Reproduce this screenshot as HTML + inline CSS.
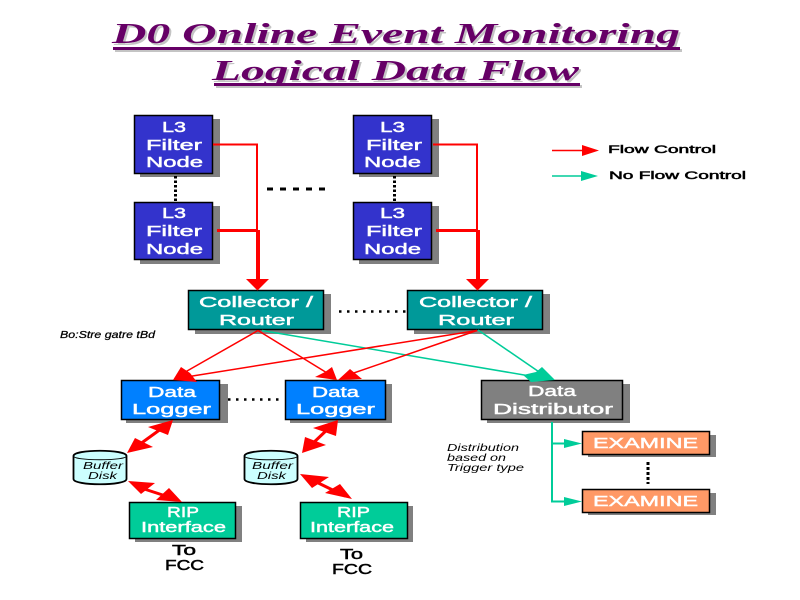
<!DOCTYPE html>
<html><head><meta charset="utf-8"><style>
html,body{margin:0;padding:0;background:#fff}
svg{display:block}
text{font-family:"Liberation Sans",sans-serif}
.w{fill:#fff;stroke:#fff;stroke-width:.45px;font-size:15px}
.k{fill:#000;stroke:#000;stroke-width:.5px;font-size:15px}
.i{fill:#000;font-style:italic;font-size:10px}
.t{fill:#660066;font-family:"Liberation Serif",serif;font-weight:bold;font-style:italic;font-size:28px}
.ts{fill:#c4c4c4}
.s{fill:#808080}
.b{stroke:#000;stroke-width:1.5}
</style></head><body>
<svg width="800" height="600" viewBox="0 0 800 600" xmlns="http://www.w3.org/2000/svg">

<!-- title -->
<rect x="115" y="49" width="567" height="3" fill="#c4c4c4"/>
<text class="t ts" x="114" y="45" textLength="568" lengthAdjust="spacingAndGlyphs">D0 Online Event Monitoring</text>
<text class="t" x="112" y="43" textLength="568" lengthAdjust="spacingAndGlyphs">D0 Online Event Monitoring</text>
<rect x="113" y="47" width="567" height="3" fill="#660066"/>
<rect x="216" y="85" width="366" height="3" fill="#c4c4c4"/>
<text class="t ts" x="214" y="82" textLength="367" lengthAdjust="spacingAndGlyphs">Logical Data Flow</text>
<text class="t" x="212" y="80" textLength="367" lengthAdjust="spacingAndGlyphs">Logical Data Flow</text>
<rect x="214" y="83" width="366" height="3" fill="#660066"/>

<!-- shadows -->
<rect class="s" x="140" y="119" width="80" height="58"/>
<rect class="s" x="140" y="206" width="80" height="58"/>
<rect class="s" x="359" y="119" width="80" height="58"/>
<rect class="s" x="359" y="206" width="80" height="58"/>
<rect class="s" x="195" y="294" width="136" height="40"/>
<rect class="s" x="414" y="294" width="136" height="40"/>
<rect class="s" x="126" y="384" width="102" height="39"/>
<rect class="s" x="290" y="384" width="102" height="39"/>
<rect class="s" x="487" y="384" width="143" height="39"/>
<rect class="s" x="588" y="435" width="128" height="22"/>
<rect class="s" x="588" y="493" width="128" height="22"/>
<rect class="s" x="135" y="506" width="107" height="36"/>
<rect class="s" x="306" y="506" width="107" height="36"/>

<!-- boxes -->
<g class="b" fill="#3333cc">
<rect x="134.5" y="115.5" width="78" height="58"/>
<rect x="134.5" y="202.5" width="78" height="57"/>
<rect x="353.5" y="115.5" width="78" height="58"/>
<rect x="353.5" y="202.5" width="78" height="57"/>
</g>
<g class="b" fill="#009999">
<rect x="188.5" y="290.5" width="135" height="39"/>
<rect x="407.5" y="290.5" width="135" height="39"/>
</g>
<g class="b" fill="#0080ff">
<rect x="121.5" y="380.5" width="98" height="39"/>
<rect x="285.5" y="380.5" width="100" height="39"/>
</g>
<rect class="b" x="481.5" y="380.5" width="141" height="39" fill="#808080"/>
<g class="b" fill="#ff9966">
<rect x="582.5" y="431.5" width="127" height="23"/>
<rect x="582.5" y="489.5" width="127" height="23"/>
</g>
<g class="b" fill="#00cc99">
<rect x="129.5" y="502.5" width="106" height="36"/>
<rect x="300.5" y="502.5" width="107" height="36"/>
</g>

<!-- dotted -->
<g stroke="#000" fill="none">
<path d="M175.5 176V202M394.5 176V202" stroke-width="3" stroke-dasharray="2.5 2"/>
<path d="M267 189H327" stroke-width="3" stroke-dasharray="6 7"/>
<path d="M339 311.5H407" stroke-width="2.5" stroke-dasharray="2.5 5.5"/>
<path d="M228 399.5H283" stroke-width="2.5" stroke-dasharray="2.5 5.5"/>
<path d="M648 462V484" stroke-width="3" stroke-dasharray="3 2"/>
</g>

<!-- red L3 lines -->
<g fill="none" stroke="#f00">
<path d="M213 144.5H257V230" stroke-width="2"/>
<path d="M217 230.5H258" stroke-width="3"/>
<path d="M258 230V281" stroke-width="4"/>
<path d="M433 144.5H477V230" stroke-width="2"/>
<path d="M436 230.5H478" stroke-width="3"/>
<path d="M478 230V281" stroke-width="4"/>
</g>
<path d="M246 279H269L257.5 290.5Z M466 279H489L477.5 290.5Z" fill="#f00"/>

<!-- flows -->
<g fill="none" stroke="#00cc99" stroke-width="1.5">
<path d="M262 330.5L530 376"/>
<path d="M478 330L545 376"/>
</g>
<path d="M523 375L536 372L542 367L555 380L531 382Z" fill="#00cc99"/>
<g fill="none" stroke="#f00" stroke-width="1.5">
<path d="M258 330.5L180 375"/>
<path d="M258 330.5L332 376"/>
<path d="M477 330.5L180 378"/>
<path d="M477 330.5L345 376"/>
</g>
<g fill="#f00">
<path d="M173 380L181 367L190 373L197 382Z"/>
<path d="M337 380L315 377L325 372L332 367Z"/>
<path d="M338 380L350 369L356 374L362 379Z"/>
</g>
<g fill="none" stroke="#f00" stroke-width="3">
<path d="M165 426L136 447"/>
<path d="M135 486L175 499"/>
<path d="M330 427L310 446"/>
<path d="M308 478L345 496"/>
</g>
<g fill="#f00">
<path d="M173 420L148 427L168 435Z"/>
<path d="M127 453L135 438L153 447Z"/>
<path d="M128 481L155 483L141 494Z"/>
<path d="M182 502L169 488L156 500Z"/>
<path d="M338 420L313 428L336 436Z"/>
<path d="M302 453L305 437L326 445Z"/>
<path d="M300 474L329 477L312 488Z"/>
<path d="M352 499L340 484L325 493Z"/>
</g>

<!-- distributor -->
<path d="M552 422V501.5H566M552 443.5H566" fill="none" stroke="#00cc99" stroke-width="2"/>
<path d="M564 439L582 443.5L564 448Z M564 497L582 501.5L564 506Z" fill="#00cc99"/>

<!-- cylinders -->
<g fill="#ccffff" stroke="#000" stroke-width="1.8">
<path d="M73.5 456C73.5 449 126.5 449 126.5 456V479C126.5 486 73.5 486 73.5 479Z"/>
<path d="M73.5 456C73.5 461 126.5 461 126.5 456" fill="none" stroke-width="1"/>
<path d="M244.5 456C244.5 449 297.5 449 297.5 456V479C297.5 486 244.5 486 244.5 479Z"/>
<path d="M244.5 456C244.5 461 297.5 461 297.5 456" fill="none" stroke-width="1"/>
</g>

<!-- legend -->
<path d="M552 150.5H584" stroke="#f00" stroke-width="1.5"/>
<path d="M582 145L599 150.5L582 156Z" fill="#f00"/>
<path d="M552 176H584" stroke="#00cc99" stroke-width="1.5"/>
<path d="M581 171L598 176L581 181Z" fill="#00cc99"/>
<text class="k" style="font-size:11px" x="608" y="153" textLength="108" lengthAdjust="spacingAndGlyphs">Flow Control</text>
<text class="k" style="font-size:11px" x="609" y="179" textLength="137" lengthAdjust="spacingAndGlyphs">No Flow Control</text>

<!-- node labels -->
<text class="w" x="162" y="132" textLength="24" lengthAdjust="spacingAndGlyphs">L3</text>
<text class="w" x="146" y="150" textLength="56" lengthAdjust="spacingAndGlyphs">Filter</text>
<text class="w" x="146" y="167" textLength="57" lengthAdjust="spacingAndGlyphs">Node</text>
<text class="w" x="162" y="218" textLength="24" lengthAdjust="spacingAndGlyphs">L3</text>
<text class="w" x="146" y="236" textLength="56" lengthAdjust="spacingAndGlyphs">Filter</text>
<text class="w" x="146" y="254" textLength="57" lengthAdjust="spacingAndGlyphs">Node</text>
<text class="w" x="380" y="132" textLength="25" lengthAdjust="spacingAndGlyphs">L3</text>
<text class="w" x="366" y="150" textLength="56" lengthAdjust="spacingAndGlyphs">Filter</text>
<text class="w" x="364" y="167" textLength="57" lengthAdjust="spacingAndGlyphs">Node</text>
<text class="w" x="380" y="218" textLength="25" lengthAdjust="spacingAndGlyphs">L3</text>
<text class="w" x="366" y="236" textLength="56" lengthAdjust="spacingAndGlyphs">Filter</text>
<text class="w" x="364" y="254" textLength="57" lengthAdjust="spacingAndGlyphs">Node</text>
<text class="w" x="199" y="307" textLength="114" lengthAdjust="spacingAndGlyphs">Collector /</text>
<text class="w" x="219" y="325" textLength="75" lengthAdjust="spacingAndGlyphs">Router</text>
<text class="w" x="419" y="307" textLength="113" lengthAdjust="spacingAndGlyphs">Collector /</text>
<text class="w" x="438" y="325" textLength="76" lengthAdjust="spacingAndGlyphs">Router</text>
<text class="w" x="148" y="397" textLength="48" lengthAdjust="spacingAndGlyphs">Data</text>
<text class="w" x="132" y="414" textLength="79" lengthAdjust="spacingAndGlyphs">Logger</text>
<text class="w" x="312" y="397" textLength="47" lengthAdjust="spacingAndGlyphs">Data</text>
<text class="w" x="296" y="414" textLength="79" lengthAdjust="spacingAndGlyphs">Logger</text>
<text class="w" x="528" y="396" textLength="48" lengthAdjust="spacingAndGlyphs">Data</text>
<text class="w" x="493" y="414" textLength="120" lengthAdjust="spacingAndGlyphs">Distributor</text>
<text class="w" x="593" y="448" textLength="105" lengthAdjust="spacingAndGlyphs">EXAMINE</text>
<text class="w" x="593" y="506" textLength="105" lengthAdjust="spacingAndGlyphs">EXAMINE</text>
<text class="w" x="167" y="517" textLength="32" lengthAdjust="spacingAndGlyphs">RIP</text>
<text class="w" x="141" y="532" textLength="85" lengthAdjust="spacingAndGlyphs">Interface</text>
<text class="w" x="337" y="517" textLength="33" lengthAdjust="spacingAndGlyphs">RIP</text>
<text class="w" x="310" y="532" textLength="84" lengthAdjust="spacingAndGlyphs">Interface</text>
<text class="k" x="172" y="555" textLength="24" lengthAdjust="spacingAndGlyphs">To</text>
<text class="k" x="165" y="570" textLength="39" lengthAdjust="spacingAndGlyphs">FCC</text>
<text class="k" x="340" y="559" textLength="23" lengthAdjust="spacingAndGlyphs">To</text>
<text class="k" x="332" y="574" textLength="40" lengthAdjust="spacingAndGlyphs">FCC</text>

<text class="i" x="83" y="469" textLength="40" lengthAdjust="spacingAndGlyphs">Buffer</text>
<text class="i" x="88" y="479" textLength="29" lengthAdjust="spacingAndGlyphs">Disk</text>
<text class="i" x="252" y="469" textLength="41" lengthAdjust="spacingAndGlyphs">Buffer</text>
<text class="i" x="257" y="479" textLength="29" lengthAdjust="spacingAndGlyphs">Disk</text>
<text class="i" x="447" y="451" textLength="72" lengthAdjust="spacingAndGlyphs">Distribution</text>
<text class="i" x="447" y="461" textLength="59" lengthAdjust="spacingAndGlyphs">based on</text>
<text class="i" x="447" y="471" textLength="77" lengthAdjust="spacingAndGlyphs">Trigger type</text>
<text class="i" style="stroke:#000;stroke-width:.25px" x="60" y="338" textLength="95" lengthAdjust="spacingAndGlyphs">Bo:Stre gatre tBd</text>
</svg>
</body></html>
